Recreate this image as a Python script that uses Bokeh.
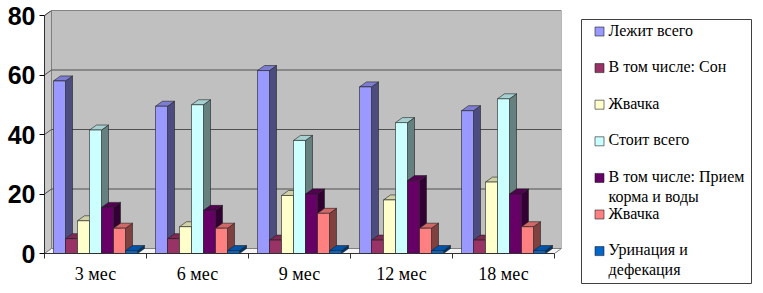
import numpy as np
from bokeh.plotting import figure
from bokeh.models import Range1d, FixedTicker, Label
from bokeh.layouts import row
from bokeh.embed import file_html
from bokeh.resources import INLINE

# ---------------- data ----------------
categories = ["3 мес", "6 мес", "9 мес", "12 мес", "18 мес"]
series_names = ["Лежит всего", "В том числе: Сон", "Жвачка", "Стоит всего",
                "В том числе: Прием корма и воды", "Жвачка", "Уринация и дефекация"]
legend_labels = ["Лежит всего", "В том числе: Сон", "Жвачка", "Стоит всего",
                 "В том числе: Прием\nкорма и воды", "Жвачка", "Уринация и\nдефекация"]
lying_total = [58, 49.5, 61.5, 56, 48]
lying_sleep = [5, 5, 4.5, 4.5, 4.5]
lying_cud = [11, 9, 19.5, 18, 24]
standing_total = [41.5, 50, 38, 44, 52]
standing_feed = [15.5, 14.5, 20, 24.5, 20]
standing_cud = [8.5, 8.5, 13.5, 8.5, 9]
urination = [1, 1, 1, 1, 1]
series_values = [lying_total, lying_sleep, lying_cud, standing_total,
                 standing_feed, standing_cud, urination]
y_ticks = [0, 20, 40, 60, 80]

colors = ["#9999FF", "#993366", "#FFFFCC", "#CCFFFF", "#660066", "#FF8080", "#0066CC"]


def shade(hex_color, f):
    h = hex_color.lstrip("#")
    r, g, b = (int(h[i:i + 2], 16) for i in (0, 2, 4))
    return "#%02x%02x%02x" % (int(r * f), int(g * f), int(b * f))


# ---------------- geometry ----------------
n_cat = len(categories)
n_ser = len(series_values)
y_max = y_ticks[-1]
total_h = 285
border_top = 10
frame_w = 517
frame_h = 243
border_bottom = total_h - border_top - frame_h
depth_px_x = 7.0
depth_px_y = 5.0
px_per_x = (frame_w - depth_px_x) / n_cat
px_per_y = (frame_h - depth_px_y) / y_max
dxu = depth_px_x / px_per_x
dyu = depth_px_y / px_per_y
bw = 12.0 / px_per_x
gap = (1 - n_ser * bw) / 2

p = figure(frame_width=frame_w, frame_height=frame_h,
           x_range=Range1d(0, n_cat + dxu), y_range=Range1d(0, y_max + dyu),
           output_backend="svg", toolbar_location=None,
           min_border_left=44, min_border_right=12,
           min_border_top=border_top, min_border_bottom=border_bottom)
p.outline_line_color = None
p.xgrid.visible = False
p.ygrid.visible = False
p.background_fill_color = "white"
p.border_fill_color = "white"

# back wall
p.quad(left=[dxu], right=[n_cat + dxu], bottom=[dyu], top=[y_max + dyu],
       fill_color="#C0C0C0", line_color="#808080", line_width=1)
# left wall
p.patch([0, dxu, dxu, 0], [0, dyu, y_max + dyu, y_max],
        fill_color="#C8C8C8", line_color="#808080", line_width=1)
# floor
p.patch([0, n_cat, n_cat + dxu, dxu], [0, 0, dyu, dyu],
        fill_color="#F4F4F4", line_color="#808080", line_width=1)
# gridlines
grid_xs = [[0, dxu, n_cat + dxu] for v in y_ticks[1:]]
grid_ys = [[v, v + dyu, v + dyu] for v in y_ticks[1:]]
p.multi_line(grid_xs, grid_ys, line_color="#505050", line_width=1)

# 3D bars
for i, vals in enumerate(series_values):
    lefts = [k + gap + i * bw for k in range(n_cat)]
    rights = [l + bw for l in lefts]
    side_xs = [[r, r + dxu, r + dxu, r] for r in rights]
    side_ys = [[0, dyu, v + dyu, v] for v in vals]
    top_xs = [[l, l + dxu, r + dxu, r] for l, r in zip(lefts, rights)]
    top_ys = [[v, v + dyu, v + dyu, v] for v in vals]
    p.patches(side_xs, side_ys, fill_color=shade(colors[i], 0.5),
              line_color="#202020", line_width=0.6)
    p.patches(top_xs, top_ys, fill_color=shade(colors[i], 0.82),
              line_color="#202020", line_width=0.6)
    p.quad(left=lefts, right=rights, bottom=[0] * n_cat, top=vals,
           fill_color=colors[i], line_color="#202020", line_width=0.6)

# axes
p.yaxis.ticker = FixedTicker(ticks=y_ticks)
p.yaxis.bounds = (0, y_max)
p.yaxis.major_label_text_font = "Liberation Sans"
p.yaxis.major_label_text_font_style = "bold"
p.yaxis.major_label_text_font_size = "25px"
p.yaxis.major_label_text_color = "black"
p.yaxis.major_tick_out = 5
p.yaxis.major_tick_in = 0
p.yaxis.minor_tick_line_color = None
p.yaxis.major_label_standoff = 4
p.yaxis.axis_line_color = "#303030"

cat_centers = [k + 0.5 for k in range(n_cat)]
p.xaxis.ticker = FixedTicker(ticks=cat_centers, minor_ticks=list(range(n_cat + 1)))
p.xaxis.major_label_overrides = {c: lab for c, lab in zip(cat_centers, categories)}
p.xaxis.bounds = (0, n_cat)
p.xaxis.major_tick_line_color = None
p.xaxis.major_tick_out = 0
p.xaxis.minor_tick_out = 5
p.xaxis.minor_tick_in = 0
p.xaxis.minor_tick_line_color = "#303030"
p.xaxis.axis_line_color = "#303030"
p.xaxis.major_label_text_font = "Liberation Serif"
p.xaxis.major_label_text_font_size = "18px"
p.xaxis.major_label_text_color = "black"
p.xaxis.major_label_standoff = 5

# ---------------- legend panel ----------------
# the row aligns frame tops, so this frame starts at border_top; data y == canvas y
leg_w = 182
leg = figure(frame_width=leg_w, frame_height=total_h, title=None,
             x_range=Range1d(0, leg_w), y_range=Range1d(total_h + border_top, border_top),
             output_backend="svg", toolbar_location=None,
             x_axis_location=None, y_axis_location=None, min_border=0)
leg.outline_line_color = None
leg.xgrid.visible = False
leg.ygrid.visible = False
leg.quad(left=[8], right=[178], top=[19], bottom=[283],
         fill_color="white", line_color="#404040", line_width=1)
row_y = [31 + 36.6 * i for i in range(n_ser)]
leg.rect(x=[26] * n_ser, y=row_y, width=9, height=9,
         fill_color=colors, line_color="#202020", line_width=0.6)
for lab, yy in zip(legend_labels, row_y):
    leg.add_layout(Label(x=35, y=yy - 10, text=lab, x_units="data", y_units="data",
                         text_font="Liberation Serif", text_font_size="16px",
                         text_baseline="top", text_align="left", text_color="black",
                         text_line_height=1.2))

layout = row(p, leg)
open("out.html", "w").write(file_html(layout, INLINE))
